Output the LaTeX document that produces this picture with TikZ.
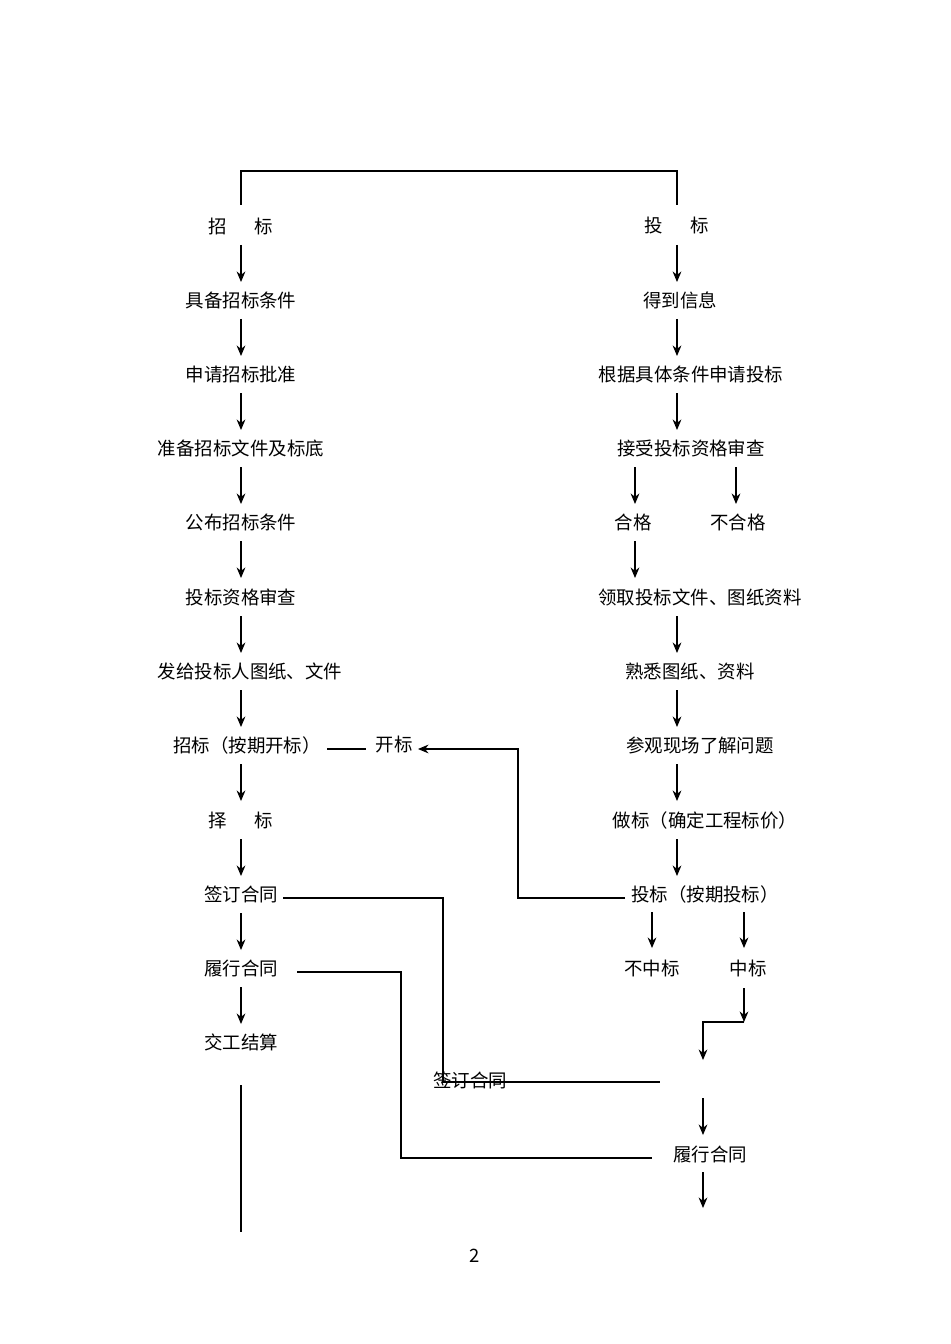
\documentclass[tikz,border=0pt]{standalone}
\usepackage{fontspec}
\setmainfont{Noto Sans CJK SC}
\usetikzlibrary{arrows.meta}
\begin{document}
\begin{tikzpicture}[x=0.02cm,y=-0.02cm,
  lbl/.style={font=\fontsize{10.5pt}{12pt}\selectfont,inner sep=0pt},
  arr/.style={-{Stealth[length=6pt,width=5pt]},line width=0.6pt},
  ln/.style={line width=0.6pt}]
\useasboundingbox (0,0) rectangle (950,1344);
\draw[ln] (241,205)--(241,171)--(677,171)--(677,205);
% left column
\foreach \y/\x/\t/\n in {226/241/{招\hspace{1.5em}标}/l1,300/241/具备招标条件/l2,374/241/申请招标批准/l3,448/241/准备招标文件及标底/l4,522/241/公布招标条件/l5,597/241/投标资格审查/l6,671/250/发给投标人图纸、文件/l7,745/247/招标（按期开标）/l8,820/241/{择\hspace{1.5em}标}/l9,894/241/签订合同/l10,968/241/履行合同/l11,1042/241/交工结算/l12}
  \node[lbl] (\n) at (\x,\y) {\t};
\foreach \a in {226,300,374,448,522,597,671,745,820,894,968}
  \draw[arr] (241,\a+19)--(241,\a+56);
\draw[ln] (241,1085)--(241,1232);
\node[lbl] (kb) at (394,745) {开标};
\draw[ln] (327,749)--(366,749);
% right column
\foreach \y/\x/\t/\n in {226/677/{投\hspace{1.5em}标}/r1,300/680/得到信息/r2,374/691/根据具体条件申请投标/r3,448/691/接受投标资格审查/r4,522/633/合格/r5a,522/738/不合格/r5b,597/700/领取投标文件、图纸资料/r6,671/690/熟悉图纸、资料/r7,745/700/参观现场了解问题/r8,820/705/做标（确定工程标价）/r9,894/705/投标（按期投标）/r10,968/652/不中标/r11a,968/748/中标/r11b,1154/710/履行合同/r13}
  \node[lbl] (\n) at (\x,\y) {\t};
\foreach \a in {226,300,374,597,671,745,820}
  \draw[arr] (677,\a+19)--(677,\a+56);
\draw[arr] (635,467)--(635,504);
\draw[arr] (736,467)--(736,504);
\draw[arr] (635,541)--(635,578);
\draw[arr] (652,912)--(652,948);
\draw[arr] (744,912)--(744,948);
\draw[arr] (744,988)--(744,1022);
\draw[arr] (744,1022)--(703,1022)--(703,1060);
\draw[arr] (703,1098)--(703,1135);
\draw[arr] (703,1172)--(703,1208);
\draw[arr] (625,898)--(518,898)--(518,749)--(418,749);
\draw[ln] (283,898)--(443,898)--(443,1082)--(660,1082);
\node[lbl] (qd) at (470,1080) {签订合同};
\draw[ln] (297,972)--(401,972)--(401,1158)--(652,1158);
\node[lbl] (pg) at (475,1256) {2};
\end{tikzpicture}
\end{document}
